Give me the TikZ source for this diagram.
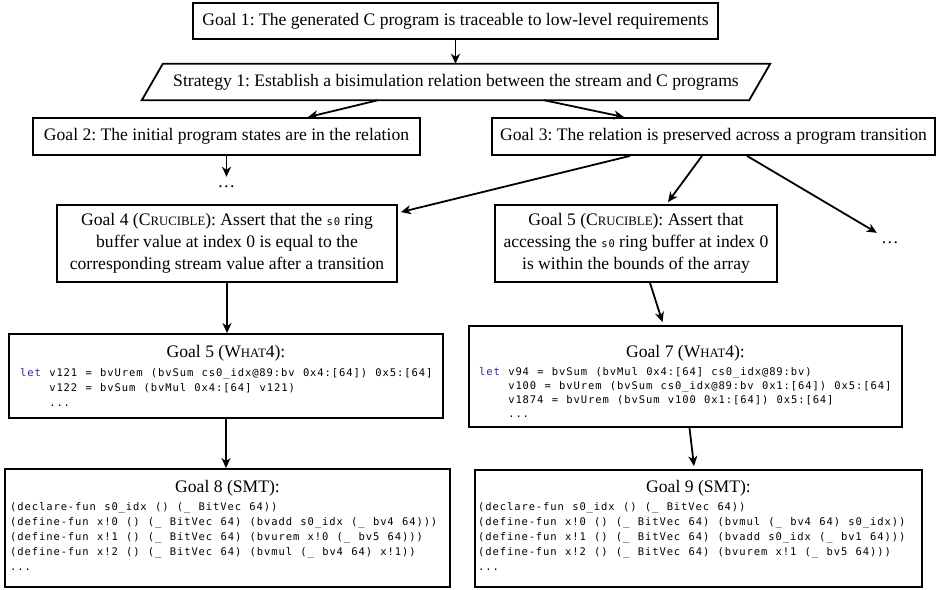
\documentclass[tikz,border=0pt]{standalone}
\usepackage{fontspec}
\setmainfont{Liberation Serif}
\newfontfamily\codefont[LetterSpace=8.6,WordSpace=1.15]{DejaVu Sans Mono}
\usetikzlibrary{arrows.meta,calc}
\definecolor{kwblue}{RGB}{40,40,165}
\newcommand{\fakesc}[2]{#1{\fontsize{12.8}{12.8}\selectfont #2}}
\newcommand{\cdtxt}[1]{{\codefont\fontsize{10.5}{15}\selectfont #1}}
\tikzset{
  box/.style={draw, line width=1.8pt, rectangle, inner sep=0pt, align=center,
              font=\fontsize{17.6}{22}\selectfont},
  ghost/.style={rectangle, inner sep=0pt, align=center,
              font=\fontsize{17.6}{22}\selectfont},
  title/.style={anchor=base, inner sep=0pt, font=\fontsize{17.6}{22}\selectfont},
  codeline/.style={anchor=base west, inner sep=0pt, font=\codefont\fontsize{10.5}{15}\selectfont},
  dotsnode/.style={inner sep=0pt, font=\fontsize{17.6}{22}\selectfont},
  arr/.style={line width=1.8pt, -{Stealth[length=10pt,width=9pt,inset=3pt]}},
}
\begin{document}
\frenchspacing
\begin{tikzpicture}[x=1pt,y=-1pt]
\useasboundingbox (0,0) rectangle (937,589);

% Goal 1
\node[box, minimum width=525pt, minimum height=36pt] (g1) at (455.5,21)
  {Goal 1: The generated C program is traceable to low-level requirements};

% Strategy 1 (parallelogram)
\node[ghost, minimum width=607pt, minimum height=36pt] (s1) at (456,82)
  {Strategy 1: Establish a bisimulation relation between the stream and C programs};
\draw[line width=1.8pt, line join=miter]
  ($(s1.south west)+(-10.5,0)$) -- ($(s1.north west)+(10.5,0)$) --
  ($(s1.north east)+(10.5,0)$) -- ($(s1.south east)+(-10.5,0)$) -- cycle;

% Goals 2 and 3
\node[box, minimum width=387pt, minimum height=37pt] (g2) at (226.5,136.5)
  {Goal 2: The initial program states are in the relation};
\node[box, minimum width=443pt, minimum height=37pt] (g3) at (713.5,136.5)
  {Goal 3: The relation is preserved across a program transition};

\node[dotsnode, minimum width=20pt, minimum height=20pt] (dots2) at (226.5,187) {\dots};
\node[dotsnode, minimum width=26pt, minimum height=20pt] (dots3) at (890,243) {\dots};

% Crucible goals
\node[box, minimum width=340pt, minimum height=77pt] (g4) at (227,243.5)
  {Goal 4 (\fakesc{C}{RUCIBLE}): Assert that the \cdtxt{s0} ring\\
   buffer value at index 0 is equal to the\\
   corresponding stream value after a transition};
\node[box, minimum width=282pt, minimum height=77pt] (g5c) at (636,243.5)
  {Goal 5 (\fakesc{C}{RUCIBLE}): Assert that\\
   accessing the \cdtxt{s0} ring buffer at index 0\\
   is within the bounds of the array};

% What4 goals
\node[box, minimum width=434pt, minimum height=84pt] (g5w) at (226,376) {};
\node[title] (g5wt) at (226,357) {Goal 5 (\fakesc{W}{HAT}4):};
\node[codeline] (g5wa) at (20,376)
  {{\color{kwblue}let} v121 = bvUrem (bvSum cs0\_idx@89:bv 0x4:[64]) 0x5:[64]};
\node[codeline] (g5wb) at (20,391)
  {\phantom{let }v122 = bvSum (bvMul 0x4:[64] v121)};
\node[codeline] (g5wc) at (20,406) {\phantom{let }...};

\node[box, minimum width=433pt, minimum height=101pt] (g7) at (685.5,376.5) {};
\node[title] (g7t) at (685.5,357) {Goal 7 (\fakesc{W}{HAT}4):};
\node[codeline] (g7a) at (479,375)
  {{\color{kwblue}let} v94 = bvSum (bvMul 0x4:[64] cs0\_idx@89:bv)};
\node[codeline] (g7b) at (479,389)
  {\phantom{let }v100 = bvUrem (bvSum cs0\_idx@89:bv 0x1:[64]) 0x5:[64]};
\node[codeline] (g7c) at (479,403)
  {\phantom{let }v1874 = bvUrem (bvSum v100 0x1:[64]) 0x5:[64]};
\node[codeline] (g7d) at (479,417) {\phantom{let }...};

% SMT goals
\node[box, minimum width=445pt, minimum height=118pt] (g8) at (227.5,528) {};
\node[title] (g8t) at (227.5,492) {Goal 8 (SMT):};
\node[codeline] (g8a) at (10,510.5) {(declare-fun s0\_idx () (\_ BitVec 64))};
\node[codeline] (g8b) at (10,525.5) {(define-fun x!0 () (\_ BitVec 64) (bvadd s0\_idx (\_ bv4 64)))};
\node[codeline] (g8c) at (10,540.5) {(define-fun x!1 () (\_ BitVec 64) (bvurem x!0 (\_ bv5 64)))};
\node[codeline] (g8d) at (10,555.5) {(define-fun x!2 () (\_ BitVec 64) (bvmul (\_ bv4 64) x!1))};
\node[codeline] (g8e) at (10,570) {...};

\node[box, minimum width=447pt, minimum height=117pt] (g9) at (698.5,528.5) {};
\node[title] (g9t) at (698.5,492) {Goal 9 (SMT):};
\node[codeline] (g9a) at (478,510.5) {(declare-fun s0\_idx () (\_ BitVec 64))};
\node[codeline] (g9b) at (478,525.5) {(define-fun x!0 () (\_ BitVec 64) (bvmul (\_ bv4 64) s0\_idx))};
\node[codeline] (g9c) at (478,540.5) {(define-fun x!1 () (\_ BitVec 64) (bvadd s0\_idx (\_ bv1 64)))};
\node[codeline] (g9d) at (478,555.5) {(define-fun x!2 () (\_ BitVec 64) (bvurem x!1 (\_ bv5 64)))};
\node[codeline] (g9e) at (478,570) {...};

% Connectors
\draw[arr] (g1.south) -- (g1.south |- s1.north);
\draw[arr] ($(s1.south)+(-78,0)$) -- ($(g2.north)+(81.5,0)$);
\draw[arr] ($(s1.south)+(88,0)$) -- ($(g3.north)+(-89.5,0)$);
\draw[arr] (g2.south) -- (dots2.north);
\draw[arr] ($(g3.south)+(-83.5,0)$) -- ($(g4.north east)+(3,8)$);
\draw[arr] ($(g3.south)+(-11.5,0)$) -- ($(g5c.north)+(32,-2)$);
\draw[arr] ($(g3.south)+(33.5,0)$) -- (dots3.north west);
\draw[arr] (g4.south) -- (g4.south |- g5w.north);
\draw[arr] ($(g5c.south)+(14,0)$) -- ($(g7.north)+(-23,-3)$);
\draw[arr] (g5w.south) -- (g5w.south |- g8.north);
\draw[arr] ($(g7.south)+(4,0)$) -- ($(g9.north)+(-4.5,-3)$);
\end{tikzpicture}
\end{document}
